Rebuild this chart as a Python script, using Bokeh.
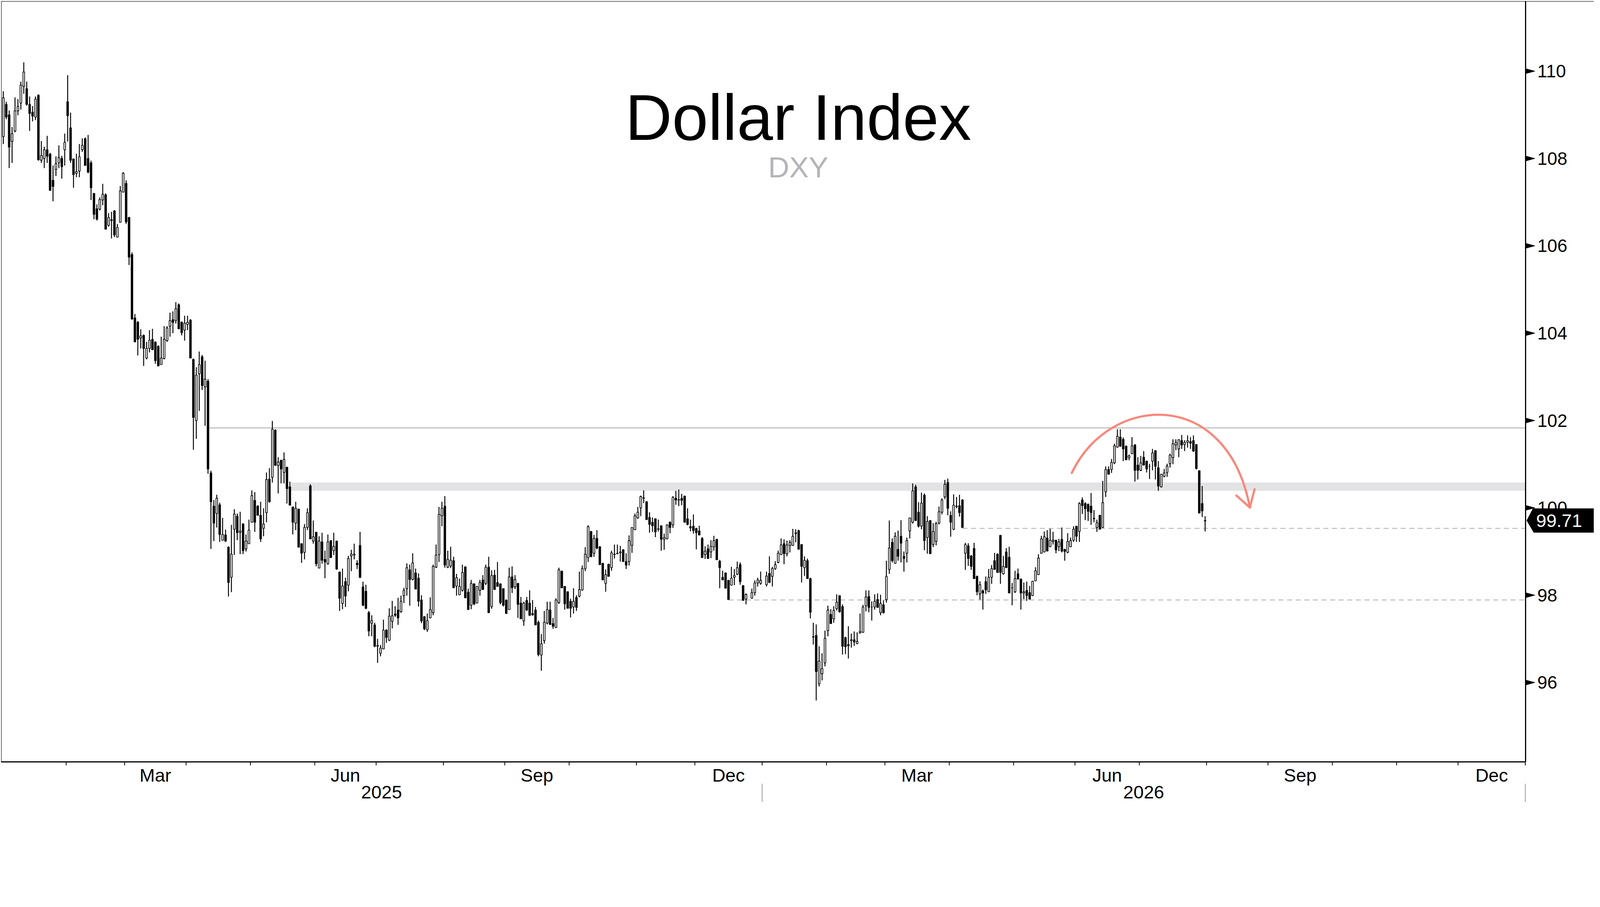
import numpy as np
import pandas as pd
from bokeh.plotting import figure
from bokeh.models import Range1d, ColumnDataSource
from bokeh.core.properties import value
from bokeh.embed import file_html
from bokeh.resources import INLINE

FONT = "Liberation Sans"

# ---------------- daily candles: (open, high, low, close) per month ----------------
OHLC_2025_01 = [
    (108.50, 109.54, 108.33, 109.39), (109.24, 109.30, 108.90, 108.95), (109.00, 109.10, 107.78, 108.26),
    (108.39, 108.72, 107.90, 108.57), (108.63, 109.40, 108.60, 109.09), (109.09, 109.36, 108.99, 109.19),
    (109.27, 109.76, 109.12, 109.68), (109.65, 110.20, 109.48, 109.98), (109.60, 109.76, 109.21, 109.24),
    (109.24, 109.42, 108.63, 109.03), (109.06, 109.20, 108.85, 108.97), (108.95, 109.42, 108.88, 109.36),
    (109.45, 109.47, 107.95, 107.97), (107.96, 108.40, 107.90, 108.07), (108.00, 108.27, 107.78, 108.20),
    (108.20, 108.52, 107.90, 108.05), (108.10, 108.13, 107.26, 107.27), (107.50, 107.84, 107.02, 107.36),
    (107.75, 108.05, 107.60, 107.88), (107.90, 108.30, 107.78, 108.02), (108.00, 108.06, 107.54, 107.81),
    (108.20, 108.57, 107.84, 108.37),
]
OHLC_2025_02 = [
    (109.30, 109.91, 108.39, 108.98), (108.70, 109.05, 107.90, 107.96), (107.99, 108.00, 107.33, 107.63),
    (107.66, 108.11, 107.57, 107.70), (107.71, 108.33, 107.57, 108.04), (108.20, 108.46, 108.15, 108.30),
    (108.45, 108.48, 107.84, 107.84), (108.00, 108.54, 107.66, 107.69), (107.90, 107.95, 107.05, 107.33),
    (107.20, 107.20, 106.61, 106.72), (106.85, 106.95, 106.58, 106.61), (106.84, 107.11, 106.81, 107.06),
    (107.05, 107.42, 106.93, 107.18), (107.17, 107.20, 106.38, 106.38), (106.47, 106.75, 106.44, 106.65),
    (106.60, 106.78, 106.17, 106.58), (106.80, 106.82, 106.20, 106.25), (106.20, 106.50, 106.20, 106.42),
    (106.54, 107.37, 106.54, 107.26), (107.23, 107.69, 107.23, 107.66),
]
OHLC_2025_03 = [
    (107.43, 107.50, 106.50, 106.55), (106.65, 106.66, 105.56, 105.74), (105.80, 105.85, 104.32, 104.32),
    (104.35, 104.44, 103.80, 103.80), (104.25, 104.28, 103.49, 103.86), (103.89, 104.09, 103.65, 103.94),
    (103.95, 103.97, 103.25, 103.65), (103.43, 103.80, 103.40, 103.65), (103.65, 104.07, 103.56, 103.84),
    (103.86, 104.10, 103.62, 103.62), (103.80, 103.80, 103.30, 103.37), (103.70, 103.72, 103.24, 103.25),
    (103.28, 103.92, 103.28, 103.43), (103.42, 104.16, 103.40, 103.86), (103.83, 104.16, 103.80, 104.12),
    (104.16, 104.47, 103.92, 104.29), (104.31, 104.50, 104.00, 104.25), (104.29, 104.71, 104.22, 104.56),
    (104.65, 104.68, 104.10, 104.10), (104.25, 104.27, 103.95, 104.01), (104.07, 104.40, 103.83, 104.23),
]
OHLC_2025_04 = [
    (104.20, 104.40, 104.07, 104.25), (104.30, 104.32, 103.43, 103.43), (103.40, 103.42, 101.33, 102.07),
    (102.00, 103.22, 101.58, 103.04), (103.07, 103.58, 102.22, 103.28), (103.46, 103.50, 102.70, 102.80),
    (102.77, 103.37, 101.88, 102.95), (102.90, 102.95, 100.78, 100.89), (100.80, 100.85, 99.06, 100.14),
    (100.04, 100.18, 99.24, 99.65), (99.87, 100.30, 99.55, 100.22), (100.07, 100.12, 99.22, 99.39),
    (99.26, 99.77, 99.25, 99.39), (99.38, 99.50, 99.22, 99.24), (99.10, 99.12, 97.97, 98.29),
    (98.41, 99.61, 98.07, 98.94), (99.51, 99.97, 98.92, 99.86), (99.81, 99.87, 99.26, 99.43),
    (99.44, 99.91, 98.94, 99.47), (99.63, 99.65, 98.94, 99.02), (99.06, 99.39, 99.00, 99.24),
    (99.18, 99.73, 99.18, 99.49),
]
OHLC_2025_05 = [
    (99.67, 100.40, 99.67, 100.28), (100.17, 100.36, 99.45, 99.67), (100.04, 100.06, 99.82, 99.83),
    (99.83, 100.14, 99.22, 99.29), (99.53, 99.99, 99.35, 99.63), (99.89, 100.81, 99.67, 100.65),
    (100.66, 100.91, 100.12, 100.14), (100.70, 101.99, 100.58, 101.80), (101.78, 101.80, 100.97, 100.97),
    (100.97, 101.16, 100.33, 101.05), (101.09, 101.10, 100.56, 100.89), (100.81, 101.27, 100.56, 101.11),
    (100.93, 100.94, 100.10, 100.44), (100.48, 100.60, 100.06, 100.06), (100.02, 100.03, 99.39, 99.67),
    (99.65, 100.14, 99.49, 99.99), (99.97, 99.98, 99.10, 99.10), (99.18, 99.19, 98.74, 98.96),
    (98.98, 99.63, 98.82, 99.55), (99.55, 99.99, 99.49, 99.89), (100.50, 100.54, 99.29, 99.29),
    (99.24, 99.71, 99.18, 99.34),
]
OHLC_2025_06 = [
    (99.44, 99.45, 98.66, 98.72), (98.62, 99.35, 98.62, 99.24), (99.22, 99.43, 98.72, 98.80),
    (98.82, 99.02, 98.39, 98.76), (98.72, 99.39, 98.70, 99.22), (99.25, 99.26, 98.86, 98.86),
    (99.02, 99.43, 98.92, 99.12), (99.24, 99.25, 98.58, 98.60), (98.53, 98.54, 97.64, 97.93),
    (97.81, 98.61, 97.68, 98.21), (98.31, 98.40, 97.73, 97.98), (98.23, 98.90, 98.09, 98.84),
    (98.90, 99.04, 98.55, 98.94), (98.92, 99.18, 98.82, 98.94), (98.73, 98.80, 98.60, 98.70),
    (99.14, 99.45, 98.39, 98.41), (98.19, 98.31, 97.75, 97.77), (98.09, 98.24, 97.68, 97.70),
    (97.60, 97.64, 97.06, 97.18), (97.36, 97.54, 97.06, 97.42), (97.32, 97.37, 96.81, 96.83),
]
OHLC_2025_07 = [
    (96.83, 97.00, 96.45, 96.85), (96.67, 96.86, 96.60, 96.79), (96.77, 97.44, 96.77, 97.20),
    (97.20, 97.22, 96.91, 97.03), (96.97, 97.70, 96.95, 97.52), (97.40, 97.87, 97.24, 97.53),
    (97.57, 97.75, 97.50, 97.54), (97.66, 97.94, 97.32, 97.48), (97.62, 97.99, 97.60, 97.86),
    (97.99, 98.17, 97.82, 98.11), (98.15, 98.73, 97.99, 98.63), (98.58, 98.70, 97.76, 98.36),
    (98.36, 98.96, 98.34, 98.74), (98.51, 98.61, 98.14, 98.14), (98.39, 98.50, 97.74, 97.86),
    (97.89, 98.00, 97.36, 97.41), (97.51, 97.52, 97.20, 97.23), (97.21, 97.58, 97.16, 97.42),
    (97.48, 97.95, 97.47, 97.67), (97.60, 98.70, 97.54, 98.66), (98.64, 99.16, 98.62, 98.92),
    (98.93, 100.02, 98.76, 99.85), (99.82, 100.14, 99.58, 99.99),
]
OHLC_2025_08 = [
    (100.04, 100.27, 98.63, 98.69), (98.64, 99.02, 98.62, 98.82), (98.67, 99.11, 98.62, 98.80),
    (98.79, 98.88, 98.17, 98.17), (98.21, 98.49, 97.99, 98.40), (98.01, 98.38, 98.00, 98.20),
    (98.11, 98.70, 98.08, 98.52), (98.65, 98.66, 97.93, 97.94), (98.07, 98.15, 97.67, 97.67),
    (97.77, 98.35, 97.68, 98.27), (98.26, 98.27, 97.77, 97.80), (97.82, 98.21, 97.82, 98.20),
    (98.11, 98.35, 97.99, 98.29), (98.35, 98.46, 98.13, 98.13), (98.27, 98.70, 98.23, 98.64),
    (98.64, 98.88, 97.60, 97.60), (97.74, 98.57, 97.69, 98.45), (98.46, 98.58, 98.13, 98.13),
    (98.29, 98.76, 98.20, 98.20), (98.26, 98.27, 97.79, 97.83), (98.15, 98.16, 97.74, 97.77),
]
OHLC_2025_09 = [
    (97.89, 97.90, 97.58, 97.58), (97.67, 98.63, 97.67, 98.42), (98.42, 98.66, 98.05, 98.17),
    (98.19, 98.46, 98.14, 98.36), (98.27, 98.28, 97.48, 97.79), (97.82, 97.96, 97.46, 97.46),
    (97.41, 97.85, 97.30, 97.82), (97.88, 97.96, 97.64, 97.66), (97.82, 98.11, 97.52, 97.54),
    (97.58, 97.89, 97.53, 97.55), (97.66, 97.73, 97.32, 97.32), (97.38, 97.42, 96.60, 96.64),
    (96.63, 97.11, 96.27, 96.89), (96.96, 97.64, 96.89, 97.38), (97.36, 97.85, 97.33, 97.67),
    (97.66, 97.85, 97.32, 97.33), (97.35, 97.48, 97.23, 97.29), (97.26, 97.93, 97.26, 97.89),
    (97.83, 98.63, 97.80, 98.58), (98.55, 98.56, 98.17, 98.17), (98.20, 98.21, 97.67, 97.80),
    (98.08, 98.09, 97.70, 97.70),
]
OHLC_2025_10 = [
    (97.86, 97.92, 97.49, 97.70), (97.73, 98.16, 97.58, 97.86), (97.95, 98.00, 97.64, 97.72),
    (97.98, 98.54, 97.95, 98.13), (98.12, 98.68, 98.10, 98.61), (98.61, 99.10, 98.55, 98.94),
    (98.86, 99.60, 98.76, 99.57), (99.46, 99.47, 98.88, 98.88), (98.96, 99.38, 98.88, 99.30),
    (99.30, 99.49, 99.05, 99.08), (99.11, 99.12, 98.70, 98.70), (98.73, 98.74, 98.35, 98.35),
    (98.27, 98.59, 98.08, 98.47), (98.71, 98.72, 98.43, 98.43), (98.63, 99.02, 98.56, 98.97),
    (98.94, 99.16, 98.84, 98.93), (98.95, 99.16, 98.94, 98.96), (98.97, 99.13, 98.77, 98.99),
    (99.04, 99.05, 98.77, 98.77), (98.77, 98.96, 98.60, 98.69), (98.77, 99.37, 98.68, 99.25),
    (99.14, 99.55, 98.97, 99.55), (99.50, 99.87, 99.49, 99.82),
]
OHLC_2025_11 = [
    (99.77, 100.02, 99.75, 99.90), (100.00, 100.28, 99.81, 100.26), (100.23, 100.40, 100.11, 100.22),
    (100.14, 100.15, 99.73, 99.73), (99.78, 99.90, 99.43, 99.62), (99.67, 99.78, 99.45, 99.59),
    (99.75, 99.76, 99.33, 99.45), (99.52, 99.73, 99.46, 99.51), (99.59, 99.60, 99.02, 99.28),
    (99.28, 99.41, 99.04, 99.32), (99.29, 99.62, 99.28, 99.61), (99.67, 99.69, 99.42, 99.55),
    (99.61, 100.27, 99.54, 100.24), (100.22, 100.39, 100.07, 100.18), (100.18, 100.42, 100.04, 100.19),
    (100.22, 100.32, 100.06, 100.17), (100.27, 100.28, 99.67, 99.67), (99.75, 99.99, 99.60, 99.62),
    (99.57, 99.73, 99.46, 99.54), (99.58, 99.85, 99.41, 99.48),
]
OHLC_2025_12 = [
    (99.53, 99.54, 99.05, 99.43), (99.47, 99.59, 99.37, 99.38), (99.30, 99.33, 98.86, 98.86),
    (98.93, 99.12, 98.83, 99.01), (99.06, 99.16, 98.84, 98.84), (98.99, 99.26, 98.85, 99.12),
    (99.11, 99.36, 99.02, 99.25), (99.28, 99.29, 98.81, 98.81), (98.78, 98.81, 98.16, 98.63),
    (98.41, 98.56, 98.35, 98.35), (98.51, 98.52, 98.16, 98.16), (98.34, 98.35, 97.90, 97.90),
    (98.23, 98.65, 98.22, 98.39), (98.41, 98.60, 98.23, 98.45), (98.48, 98.77, 98.46, 98.63),
    (98.70, 98.75, 98.24, 98.31), (98.22, 98.23, 97.88, 97.88), (97.91, 98.04, 97.79, 98.02),
    (97.93, 98.15, 97.92, 98.06), (98.06, 98.34, 97.99, 98.28), (98.28, 98.40, 98.20, 98.35),
    (98.27, 98.54, 98.24, 98.34),
]
OHLC_2026_01 = [
    (98.24, 98.54, 98.20, 98.44), (98.50, 98.89, 98.28, 98.29), (98.43, 98.65, 98.20, 98.61),
    (98.61, 98.78, 98.58, 98.70), (98.75, 99.02, 98.73, 98.96), (98.93, 99.30, 98.92, 99.15),
    (99.18, 99.28, 98.71, 98.95), (98.95, 99.25, 98.89, 99.15), (99.14, 99.26, 98.98, 99.21),
    (99.14, 99.52, 99.13, 99.35), (99.43, 99.51, 99.21, 99.41), (99.48, 99.50, 99.05, 99.05),
    (99.16, 99.17, 98.29, 98.66), (98.63, 98.89, 98.44, 98.80), (98.79, 98.84, 98.38, 98.38),
    (98.38, 98.40, 97.47, 97.61), (97.05, 97.37, 96.87, 97.04), (97.08, 97.33, 95.59, 96.25),
    (95.97, 96.83, 95.91, 96.49), (96.20, 96.67, 96.05, 96.32), (96.45, 97.19, 96.37, 97.01),
]
OHLC_2026_02 = [
    (97.19, 97.76, 97.06, 97.66), (97.56, 97.68, 97.35, 97.35), (97.46, 97.75, 97.37, 97.65),
    (97.69, 98.02, 97.65, 97.84), (97.99, 98.00, 97.60, 97.62), (97.74, 97.79, 96.64, 96.83),
    (97.03, 97.05, 96.65, 96.82), (96.87, 97.29, 96.55, 96.84), (96.96, 97.12, 96.80, 96.98),
    (96.98, 97.17, 96.84, 96.93), (96.89, 97.15, 96.88, 96.94), (97.14, 97.58, 97.12, 97.17),
    (97.15, 97.78, 97.14, 97.73), (97.76, 98.11, 97.63, 97.96), (97.97, 98.11, 97.61, 97.72),
    (97.73, 97.86, 97.42, 97.73), (97.73, 98.02, 97.67, 97.86), (97.90, 98.04, 97.71, 97.72),
    (97.60, 98.01, 97.54, 97.81), (97.78, 97.88, 97.58, 97.60),
]
OHLC_2026_03 = [
    (97.90, 98.79, 97.83, 98.43), (98.59, 99.71, 98.49, 99.08), (99.21, 99.30, 98.75, 98.79),
    (98.73, 99.44, 98.72, 99.35), (99.05, 99.48, 98.79, 98.89), (99.35, 99.72, 98.75, 99.19),
    (98.89, 99.00, 98.54, 98.84), (98.96, 99.32, 98.75, 99.25), (99.47, 99.77, 99.30, 99.77),
    (99.67, 100.56, 99.64, 100.39), (100.48, 100.53, 99.70, 99.71), (99.90, 100.13, 99.55, 99.58),
    (99.58, 100.35, 99.51, 100.11), (100.29, 100.33, 99.03, 99.25), (99.32, 99.81, 98.95, 99.69),
    (99.71, 99.72, 98.95, 98.95), (99.16, 99.65, 99.10, 99.46), (99.23, 99.68, 99.14, 99.64),
    (99.65, 100.03, 99.62, 99.91), (99.90, 100.22, 99.85, 100.18), (100.25, 100.64, 100.20, 100.54),
    (100.58, 100.67, 99.83, 99.99),
]
OHLC_2026_04 = [
    (99.83, 99.92, 99.34, 99.67), (99.51, 100.31, 99.49, 100.06), (100.03, 100.25, 99.99, 100.04),
    (100.05, 100.30, 99.80, 99.89), (100.18, 100.20, 99.54, 99.55), (98.96, 99.20, 98.58, 99.16),
    (99.13, 99.19, 98.67, 98.84), (98.90, 98.92, 98.58, 98.66), (99.07, 99.20, 98.38, 98.38),
    (98.43, 98.45, 98.00, 98.08), (98.03, 98.32, 97.90, 98.24), (98.10, 98.13, 97.67, 98.05),
    (98.31, 98.43, 98.03, 98.12), (98.08, 98.60, 98.07, 98.41), (98.41, 98.69, 98.26, 98.61),
    (98.79, 98.97, 98.58, 98.59), (98.94, 98.96, 98.52, 98.52), (99.37, 99.38, 98.26, 98.52),
    (98.49, 98.90, 98.47, 98.66), (98.99, 99.08, 98.63, 98.63), (98.87, 99.11, 98.05, 98.05),
    (98.17, 98.28, 97.77, 98.17),
]
OHLC_2026_05 = [
    (98.08, 98.56, 98.05, 98.38), (98.49, 98.61, 98.36, 98.37), (98.37, 98.38, 97.67, 98.05),
    (98.05, 98.29, 97.91, 98.08), (98.11, 98.31, 97.87, 97.99), (98.06, 98.21, 97.91, 97.91),
    (97.99, 98.33, 97.98, 98.32), (98.33, 98.64, 98.32, 98.56), (98.47, 98.94, 98.46, 98.85),
    (98.96, 99.36, 98.95, 99.29), (98.99, 99.46, 98.98, 99.34), (99.31, 99.49, 99.01, 99.01),
    (99.11, 99.52, 99.10, 99.26), (99.23, 99.45, 99.16, 99.26), (99.26, 99.27, 98.96, 99.04),
    (99.11, 99.29, 99.01, 99.22), (99.28, 99.55, 98.98, 99.01), (99.05, 99.06, 98.79, 99.00),
    (98.98, 99.42, 98.96, 99.23), (99.11, 99.32, 99.10, 99.25), (99.26, 99.58, 99.22, 99.51),
]
OHLC_2026_06 = [
    (99.58, 99.59, 99.22, 99.35), (99.46, 100.13, 99.22, 100.10), (100.18, 100.24, 99.86, 100.05),
    (100.10, 100.13, 99.72, 99.98), (100.08, 100.10, 99.70, 99.92), (100.04, 100.34, 99.61, 99.89),
    (99.76, 99.95, 99.67, 99.75), (99.55, 99.73, 99.45, 99.66), (99.83, 99.84, 99.51, 99.51),
    (99.55, 100.62, 99.54, 100.12), (100.37, 100.95, 100.25, 100.88), (100.88, 100.95, 100.76, 100.77),
    (100.88, 101.12, 100.80, 101.04), (101.03, 101.47, 101.00, 101.42), (101.39, 101.80, 101.38, 101.64),
    (101.62, 101.80, 101.40, 101.41), (101.57, 101.61, 101.07, 101.35), (101.41, 101.43, 101.09, 101.10),
    (101.15, 101.22, 101.09, 101.19), (101.24, 101.62, 101.23, 101.42), (101.44, 101.46, 100.60, 100.86),
    (100.98, 101.16, 100.65, 100.86),
]
OHLC_2026_07 = [
    (100.86, 101.19, 100.84, 101.03), (101.16, 101.30, 100.97, 100.98), (101.07, 101.08, 100.81, 100.89),
    (100.95, 101.01, 100.66, 100.95), (101.07, 101.35, 100.86, 101.26), (101.31, 101.32, 100.65, 100.95),
    (100.92, 101.07, 100.39, 100.50), (100.48, 100.78, 100.47, 100.77), (100.72, 100.89, 100.70, 100.80),
    (100.81, 101.01, 100.71, 100.96), (101.01, 101.24, 100.92, 101.21), (101.15, 101.57, 101.00, 101.47),
    (101.44, 101.57, 101.32, 101.50), (101.35, 101.57, 101.16, 101.56), (101.54, 101.67, 101.35, 101.44),
    (101.45, 101.55, 101.30, 101.50), (101.50, 101.66, 101.38, 101.54), (101.52, 101.62, 101.35, 101.48),
    (101.54, 101.66, 101.28, 101.30), (101.45, 101.46, 100.88, 100.90), (100.85, 100.86, 99.88, 99.88),
    (100.10, 100.50, 99.79, 99.93), (99.70, 99.81, 99.46, 99.71),
]

MONTHS = [
    ("2025-01", OHLC_2025_01), ("2025-02", OHLC_2025_02), ("2025-03", OHLC_2025_03),
    ("2025-04", OHLC_2025_04), ("2025-05", OHLC_2025_05), ("2025-06", OHLC_2025_06),
    ("2025-07", OHLC_2025_07), ("2025-08", OHLC_2025_08), ("2025-09", OHLC_2025_09),
    ("2025-10", OHLC_2025_10), ("2025-11", OHLC_2025_11), ("2025-12", OHLC_2025_12),
    ("2026-01", OHLC_2026_01), ("2026-02", OHLC_2026_02), ("2026-03", OHLC_2026_03),
    ("2026-04", OHLC_2026_04), ("2026-05", OHLC_2026_05), ("2026-06", OHLC_2026_06),
    ("2026-07", OHLC_2026_07),
]
NO_TRADE = {"2025-01-01", "2025-12-25", "2026-01-01"}

LAST_PRICE = 99.71
Y_TICKS = [96, 98, 100, 102, 104, 106, 108, 110]
MONTH_LABELS = {3: "Mar", 6: "Jun", 9: "Sep", 12: "Dec"}
YEARS = ["2025", "2026"]

RESIST_LINE = 101.83            # solid grey line
RESIST_BAND = (100.39, 100.58)  # grey zone
SUPPORT_1 = 99.53               # dashed
SUPPORT_2 = 97.89               # dashed

# ---------------- build the series ----------------
ORIGIN = np.datetime64("2025-01-01")


def wd(d):
    """weekday index since 2025-01-01"""
    return int(np.busday_count(ORIGIN, np.datetime64(pd.Timestamp(d).date())))


xs, op, hi, lo, cl = [], [], [], [], []
for ym, rows in MONTHS:
    start = pd.Timestamp(ym + "-01")
    days = [d for d in pd.bdate_range(start, start + pd.offsets.MonthEnd(0))
            if d.strftime("%Y-%m-%d") not in NO_TRADE]
    for d, (o, h, l, c) in zip(days, rows):
        xs.append(wd(d)); op.append(o); hi.append(h); lo.append(l); cl.append(c)

op = np.array(op); cl = np.array(cl)
up = cl >= op
src = ColumnDataSource(dict(
    x=xs, high=hi, low=lo,
    top=np.maximum(op, cl), bottom=np.minimum(op, cl),
    fill=np.where(up, "white", "black"),
))

# ---------------- geometry (css px) ----------------
W, H = 4080, 2053
AXIS_X = 3905           # price axis position inside the figure
AXIS_Y = 1950           # time axis position inside the figure
X0, X1 = 0.2, 521.6
Y0, Y1 = 94.183, 111.607
PX = (AXIS_X - 2) / (X1 - X0)
PY = (AXIS_Y - 2) / (Y1 - Y0)
XR = X1 + (W - AXIS_X) / PX          # frame also covers the price-label strip
YB = Y0 - (H - AXIS_Y) / PY          # ... and the date-label strip

p = figure(width=W, height=H, output_backend="svg", toolbar_location=None,
           x_range=Range1d(X0, XR), y_range=Range1d(YB, Y1),
           x_axis_location=None, y_axis_location=None,
           min_border_left=2, min_border_top=2, min_border_right=0, min_border_bottom=0,
           background_fill_color="white", border_fill_color="white")
p.grid.visible = False
p.outline_line_color = None

# image border (left / top)
p.segment(x0=[X0 + 1 / PX, X0], y0=[Y0, Y1 - 1 / PY], x1=[X0 + 1 / PX, XR], y1=[Y1, Y1 - 1 / PY],
          line_color="#555555", line_width=2)

# ---------------- reference levels ----------------
p.quad(left=[wd("2025-05-20") + 0.3], right=[X1], bottom=[RESIST_BAND[0]], top=[RESIST_BAND[1]],
       fill_color="#e3e3e5", line_color=None)
p.segment(x0=[wd("2025-04-10") - 0.4], y0=[RESIST_LINE], x1=[X1], y1=[RESIST_LINE],
          line_color="#b8b8b8", line_width=2.5)
p.segment(x0=[wd("2026-04-07"), wd("2025-12-16")], y0=[SUPPORT_1, SUPPORT_2],
          x1=[X1, X1], y1=[SUPPORT_1, SUPPORT_2],
          line_color="#bdbdbd", line_width=2.5, line_dash="13 9")

# ---------------- candles ----------------
p.segment(x0="x", y0="low", x1="x", y1="high", source=src, line_color="black", line_width=2.4)
p.vbar(x="x", width=0.58, top="top", bottom="bottom", source=src,
       fill_color="fill", line_color="black", line_width=1.8)

# ---------------- arc arrow ----------------
SALMON = "#f8887b"
p.bezier(x0=[366.4], y0=[100.80], x1=[427.3], y1=[100.007],
         cx0=[379.6], cy0=[102.64], cx1=[419.6], cy1=[102.755],
         line_color=SALMON, line_width=5.5, line_cap="round")
p.segment(x0=[427.3, 427.3], y0=[100.007, 100.007], x1=[422.7, 428.9], y1=[100.282, 100.426],
          line_color=SALMON, line_width=5.5, line_cap="round")

# ---------------- price axis (right) ----------------
p.segment(x0=[X1], y0=[Y0], x1=[X1], y1=[Y1], line_color="black", line_width=3)
p.patches(xs=[[X1, X1, X1 + 24 / PX] for v in Y_TICKS],
          ys=[[v + 6.5 / PY, v - 6.5 / PY, v] for v in Y_TICKS],
          fill_color="black", line_color="black", line_width=1)
p.text(x=[X1 + 30 / PX] * len(Y_TICKS), y=Y_TICKS, text=[str(v) for v in Y_TICKS],
       text_font=value(FONT), text_font_size="46px", text_color="black",
       text_align="left", text_baseline="middle")

# last price tag
h2 = 30.5 / PY
p.patch(x=[X1 + 3 / PX, X1 + 19 / PX, XR + 5, XR + 5, X1 + 21 / PX],
        y=[LAST_PRICE, LAST_PRICE + h2, LAST_PRICE + h2, LAST_PRICE - h2, LAST_PRICE - h2],
        fill_color="black", line_color="black", line_width=1)
p.text(x=[X1 + 27 / PX], y=[LAST_PRICE], text=[f"{LAST_PRICE:.2f}"],
       text_font=value(FONT), text_font_size="47px", text_color="white",
       text_align="left", text_baseline="middle")

# ---------------- time axis (bottom) ----------------
month_starts = pd.date_range("2025-02-01", "2027-01-01", freq="MS")
bounds = [wd(m) - 0.5 for m in month_starts]
p.segment(x0=bounds, y0=[Y0] * len(bounds), x1=bounds, y1=[Y0 - 9 / PY] * len(bounds),
          line_color="black", line_width=2)
p.segment(x0=[X0], y0=[Y0], x1=[X1], y1=[Y0], line_color="black", line_width=3)

m_x, m_t = [], []
for m in pd.date_range("2025-01-01", "2026-12-01", freq="MS"):
    if m.month in MONTH_LABELS:
        nxt = m + pd.offsets.MonthBegin(1)
        m_x.append((wd(m) + wd(nxt)) / 2 - 0.5)
        m_t.append(MONTH_LABELS[m.month])
p.text(x=m_x, y=[Y0 - 34 / PY] * len(m_x), text=m_t, text_font=value(FONT),
       text_font_size="47px", text_color="black", text_align="center", text_baseline="middle")

y_bounds = [X0, wd("2026-01-01") - 0.5, wd("2027-01-01") - 0.5]
y_x = [(y_bounds[i] + y_bounds[i + 1]) / 2 for i in range(2)]
p.text(x=y_x, y=[Y0 - 77 / PY] * 2, text=YEARS, text_font=value(FONT),
       text_font_size="47px", text_color="black", text_align="center", text_baseline="middle")
p.segment(x0=y_bounds[1:], y0=[Y0 - 56 / PY] * 2, x1=y_bounds[1:], y1=[YB] * 2,
          line_color="#9a9a9a", line_width=2)

# ---------------- title ----------------
TX = X0 + (2043 - 2) / PX
p.text(x=[TX], y=[Y1 - (300 - 2) / PY], text=["Dollar Index"], text_align="center",
       text_baseline="middle", text_font=value(FONT), text_font_size="166px", text_color="black")
p.text(x=[TX], y=[Y1 - (427 - 2) / PY], text=["DXY"], text_align="center",
       text_baseline="middle", text_font=value(FONT), text_font_size="75px", text_color="#b4b4b8")

open("out.html", "w").write(file_html(p, INLINE))
